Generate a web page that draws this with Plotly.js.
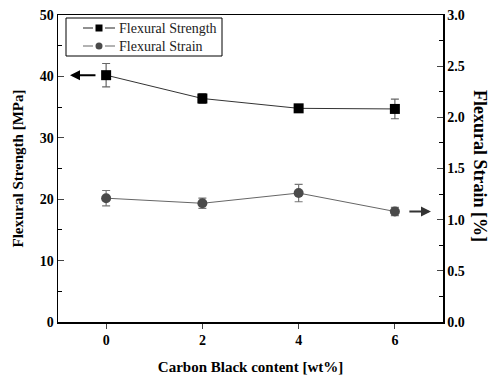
<!DOCTYPE html>
<html><head><meta charset="utf-8">
<script src="https://cdn.plot.ly/plotly-3.0.1.min.js"></script>
<style>body{margin:0;background:#fff}#c{width:496px;height:375px}</style>
</head><body><div id="c"></div>
<script>
const cbContent = [0, 2, 4, 6];
const strength = [40.2, 36.4, 34.8, 34.7];
const strengthErr = [1.9, 0.8, 0.5, 1.6];
const strain = [1.21, 1.16, 1.26, 1.08];
const strainErr = [0.075, 0.05, 0.085, 0.04];
const seriesNames = ['Flexural Strength', 'Flexural Strain'];
const xTicks = [0, 2, 4, 6];
const yTicks = [0, 10, 20, 30, 40, 50];
const y2Ticks = [0, 0.5, 1.0, 1.5, 2.0, 2.5, 3.0];

const serif = "'Liberation Serif', 'Times New Roman', serif";
const colStrength = '#000', colStrain = '#4a4a4a';
const traces = [
  {x: cbContent, y: strength, name: seriesNames[0], type: 'scatter', mode: 'lines+markers',
   line: {color: '#333', width: 1}, marker: {symbol: 'square', size: 10, color: colStrength},
   error_y: {type: 'data', array: strengthErr, color: '#666', thickness: 1.2, width: 4}},
  {x: cbContent, y: strain, name: seriesNames[1], type: 'scatter', mode: 'lines+markers', yaxis: 'y2',
   line: {color: '#666', width: 1}, marker: {symbol: 'circle', size: 10, color: colStrain},
   error_y: {type: 'data', array: strainErr, color: '#777', thickness: 1.2, width: 4}}
];

// manual legend (compact, like the original)
const W = 385, H = 307;
const px = v => (v - 58) / W, py = v => (322 - v) / H;
const legRows = [28, 46];
const shapes = [
  {type: 'rect', xref: 'paper', yref: 'paper', x0: px(66), x1: px(222), y0: py(56), y1: py(18),
   line: {color: '#000', width: 1}, fillcolor: '#fff', layer: 'above'}
];
const annotations = [];
seriesNames.forEach((nm, i) => {
  const yy = py(legRows[i]);
  const lc = i === 0 ? '#222' : '#666';
  shapes.push({type: 'line', xref: 'paper', yref: 'paper', x0: px(83), x1: px(93), y0: yy, y1: yy, line: {color: lc, width: 1}, layer: 'above'});
  shapes.push({type: 'line', xref: 'paper', yref: 'paper', x0: px(105), x1: px(115), y0: yy, y1: yy, line: {color: lc, width: 1}, layer: 'above'});
  shapes.push({type: i === 0 ? 'rect' : 'circle', xref: 'paper', yref: 'paper', xsizemode: 'pixel', ysizemode: 'pixel',
    xanchor: px(99), yanchor: yy, x0: -3.5, x1: 3.5, y0: -3.5, y1: 3.5,
    line: {width: 0}, fillcolor: i === 0 ? colStrength : colStrain, layer: 'above'});
  annotations.push({xref: 'paper', yref: 'paper', x: px(117), y: yy, xanchor: 'left', yanchor: 'middle', showarrow: false,
    text: nm, font: {family: serif, size: 14, color: '#222'}});
});
annotations.push(
  {xref: 'x', yref: 'y', axref: 'x', ayref: 'y', x: -0.75, y: strength[0], ax: -0.19, ay: strength[0],
   showarrow: true, arrowhead: 2, arrowsize: 1, arrowwidth: 2, arrowcolor: '#000', text: ''},
  {xref: 'x', yref: 'y2', axref: 'x', ayref: 'y2', x: 6.75, y: strain[3], ax: 6.27, ay: strain[3],
   showarrow: true, arrowhead: 2, arrowsize: 1, arrowwidth: 2, arrowcolor: '#333', text: ''},
  {xref: 'paper', yref: 'paper', x: px(480), y: py(166), xanchor: 'center', yanchor: 'middle', showarrow: false,
   textangle: 90, text: '<b>Flexural Strain [%]</b>', font: {family: serif, size: 18, color: '#000'}}
);

const layout = {
  width: 496, height: 375, margin: {l: 58, r: 53, t: 15, b: 53},
  paper_bgcolor: '#fff', plot_bgcolor: '#fff', showlegend: false,
  font: {family: serif, color: '#000'},
  xaxis: {range: [-1, 7], tickvals: xTicks, ticktext: xTicks.map(String), ticks: 'outside', ticklen: 5,
          showline: true, linecolor: '#000', linewidth: 1.5, mirror: true, showgrid: false, zeroline: false,
          tickfont: {family: serif, size: 14, weight: 'bold'},
          title: {text: '<b>Carbon Black content [wt%]</b>', font: {family: serif, size: 15}, standoff: 16}},
  yaxis: {range: [0, 50], tickvals: yTicks, ticks: 'inside', ticklen: 6, showline: true, linecolor: '#000',
          linewidth: 1.5, showgrid: false, zeroline: false, tickfont: {family: serif, size: 14, weight: 'bold'},
          minor: {dtick: 5, ticks: 'inside', ticklen: 4, tickcolor: '#000'},
          title: {text: '<b>Flexural Strength [MPa]</b>', font: {family: serif, size: 15}, standoff: 12}},
  yaxis2: {range: [0, 3], overlaying: 'y', side: 'right', tickvals: y2Ticks, ticktext: y2Ticks.map(v => v.toFixed(1)),
           ticks: 'inside', ticklen: 6, showline: true, linecolor: '#000', linewidth: 1.5, showgrid: false, zeroline: false,
           tickfont: {family: serif, size: 14, weight: 'bold'},
           minor: {dtick: 0.25, ticks: 'inside', ticklen: 4, tickcolor: '#000'}},
  shapes: shapes,
  annotations: annotations
};
Plotly.newPlot('c', traces, layout, {displayModeBar: false, staticPlot: true});
</script></body></html>
